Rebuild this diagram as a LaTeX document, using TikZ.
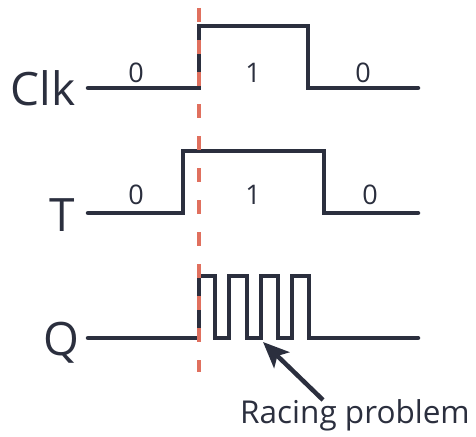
\documentclass[tikz,border=0pt]{standalone}
\usepackage{fontspec}
\setmainfont{Open Sans}
\usetikzlibrary{arrows.meta}
\definecolor{ink}{HTML}{2B2F3E}
\definecolor{salmon}{HTML}{E0705E}

\begin{document}
\begin{tikzpicture}[x=1pt,y=-1pt,
		wave/.style={ink,line width=4.5pt,line join=miter,line cap=round},
		marker/.style={salmon,line width=3.5pt,dash pattern=on 14pt off 18pt},
		pointer/.style={ink,line width=4.5pt,-{Stealth[length=26pt,width=22pt,inset=6pt]}},
		bit/.style={ink,anchor=base,font=\fontsize{27}{30}\selectfont},
		sig/.style={ink,anchor=base,font=\fontsize{46}{50}\selectfont}]
				\useasboundingbox (0,0) rectangle (476,436);
				% waveforms
				\draw[wave] (88,88) -- (199,88) -- (199,26) -- (308,26) -- (308,88) -- (418,88);
				\draw[wave] (88,213) -- (183,213) -- (183,151) -- (324,151) -- (324,213) -- (418,213);
				\draw[wave] (88,338) -- (199,338) -- (199,276) -- (215,276) -- (215,338)
					-- (229,338) -- (229,276) -- (247,276) -- (247,338)
					-- (261,338) -- (261,276) -- (278,276) -- (278,338)
					-- (292,338) -- (292,276) -- (309,276) -- (309,338) -- (418,338);
				% clock edge
				\coordinate (edgetop) at (199,8);
				\coordinate (edgebot) at (199,372);
				\draw[marker] (edgetop) -- (edgebot);
				% signal names
				\node[sig] (clklbl) at (43,105) {Clk};
				\node[sig] (tlbl) at (62,231) {T};
				\node[sig] (qlbl) at (61,355) {Q};
				% levels
				\node[bit] (c0) at (136,82) {0};
				\node[bit] (c1) at (253,82) {1};
				\node[bit] (c2) at (363,82) {0};
				\node[bit] (t0) at (136,204) {0};
				\node[bit] (t1) at (253,204) {1};
				\node[bit] (t2) at (370,204) {0};
				% annotation
				\node[bit,font=\fontsize{31.5}{33}\selectfont] (race) at (355,423) {Racing problem};
				\coordinate (racetail) at (323,400);
				\coordinate (racetip) at (263,342);
				\draw[pointer] (racetail) -- (racetip);
			\end{tikzpicture}
\end{document}
